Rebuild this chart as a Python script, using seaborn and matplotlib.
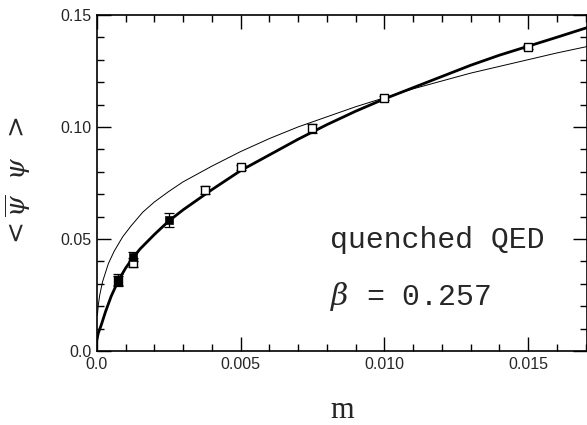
import numpy as np
import pandas as pd
import seaborn as sns
import matplotlib.pyplot as plt
from matplotlib.ticker import MultipleLocator, FixedLocator

# measured chiral condensate (open = one lattice size, filled = another)
m_open = [0.00075, 0.00125, 0.00375, 0.005, 0.0075, 0.010, 0.015]
pbp_open = [0.0315, 0.0394, 0.0719, 0.0820, 0.0994, 0.1128, 0.1356]
err_open = [0.0020, 0.0020, 0.0018, 0.0012, 0.0020, 0.0008, 0.0008]

m_filled = [0.00075, 0.00125, 0.0025]
pbp_filled = [0.0317, 0.0421, 0.0585]
err_filled = [0.0025, 0.0020, 0.0030]

# thick curve: equation-of-state fit
fit_m = [0.0, 0.00005, 0.00015, 0.0003, 0.0005, 0.00075, 0.001, 0.00125,
         0.0015, 0.002, 0.0025, 0.003, 0.004, 0.005, 0.006, 0.007, 0.008,
         0.009, 0.010, 0.011, 0.012, 0.013, 0.014, 0.015, 0.016, 0.0171]
fit_pbp = [0.005, 0.008, 0.0115, 0.0175, 0.0245, 0.0315, 0.0370, 0.0415,
           0.0455, 0.0520, 0.0580, 0.0630, 0.0720, 0.0805, 0.0875, 0.0945,
           0.1010, 0.1070, 0.1125, 0.1175, 0.1225, 0.1275, 0.1320, 0.1360,
           0.1400, 0.1445]

# thin curve: mean-field power law
mf_m = [0.00002, 0.00005, 0.0001, 0.0002, 0.0004, 0.0006, 0.0009, 0.0012,
        0.0016, 0.002, 0.0025, 0.003, 0.004, 0.005, 0.006, 0.007, 0.008,
        0.009, 0.010, 0.011, 0.012, 0.013, 0.014, 0.015, 0.016, 0.0171]
mf_pbp = [0.0160, 0.0205, 0.0250, 0.0310, 0.0390, 0.0445, 0.0510, 0.0560,
          0.0620, 0.0665, 0.0712, 0.0755, 0.0825, 0.0890, 0.0948, 0.1000,
          0.1045, 0.1090, 0.1130, 0.1170, 0.1205, 0.1240, 0.1270, 0.1300,
          0.1330, 0.1360]

sns.set_theme(style="ticks")
plt.rcParams['font.family'] = ['Liberation Sans', 'DejaVu Sans']
plt.rcParams['mathtext.fontset'] = 'dejavuserif'

fig = plt.figure(figsize=(5.87, 4.25), dpi=100)
ax = fig.add_axes([0.165, 0.174, 0.835, 0.791])

fit_df = pd.DataFrame({"m": fit_m, "pbp": fit_pbp})
mf_df = pd.DataFrame({"m": mf_m, "pbp": mf_pbp})
sns.lineplot(data=mf_df, x="m", y="pbp", ax=ax, color="black", lw=0.7, sort=False)
sns.lineplot(data=fit_df, x="m", y="pbp", ax=ax, color="black", lw=2.0, sort=False)

ax.errorbar(m_open, pbp_open, yerr=err_open, fmt="none", ecolor="black",
            elinewidth=0.9, capsize=3.5, capthick=0.9)
ax.errorbar(m_filled, pbp_filled, yerr=err_filled, fmt="none", ecolor="black",
            elinewidth=0.9, capsize=3.5, capthick=0.9)
sns.scatterplot(x=m_open, y=pbp_open, ax=ax, marker="s", s=26,
                facecolor="white", edgecolor="black", linewidth=1.0, zorder=3)
sns.scatterplot(x=m_filled, y=pbp_filled, ax=ax, marker="s", s=36,
                color="black", edgecolor="black", zorder=4)

ax.set_xlim(0, 0.01705)
ax.set_ylim(0, 0.15)
ax.xaxis.set_major_locator(FixedLocator([0, 0.005, 0.010, 0.015]))
ax.xaxis.set_minor_locator(MultipleLocator(0.001))
ax.yaxis.set_major_locator(FixedLocator([0, 0.05, 0.10, 0.15]))
ax.yaxis.set_minor_locator(MultipleLocator(0.01))
ax.set_xticklabels(["0.0", "0.005", "0.010", "0.015"])
ax.set_yticklabels(["0.0", "0.05", "0.10", "0.15"])
ax.tick_params(which="both", direction="in", top=True, right=True,
               labelsize=11.5, width=1.0, color="black")
ax.tick_params(which="major", length=10, pad=4)
ax.tick_params(which="minor", length=5)
for s in ax.spines.values():
    s.set_linewidth(1.2)
    s.set_color("black")

ax.set_xlabel("m", family="Liberation Serif", fontsize=22)
ax.xaxis.set_label_coords(0.5, -0.135)
ax.set_ylabel(r"$<\overline{\psi}\ \ \psi\ \ >$", fontsize=19)
ax.yaxis.set_label_coords(-0.13, 0.5)

ax.text(0.0081, 0.0496, "quenched QED", family="Liberation Mono",
        fontsize=21.5, va="center", ha="left")
ax.text(0.0081, 0.0245, r"$\beta$ = 0.257", family="Liberation Mono",
        fontsize=21.5, va="center", ha="left")

fig.savefig("out.png", dpi=100)
